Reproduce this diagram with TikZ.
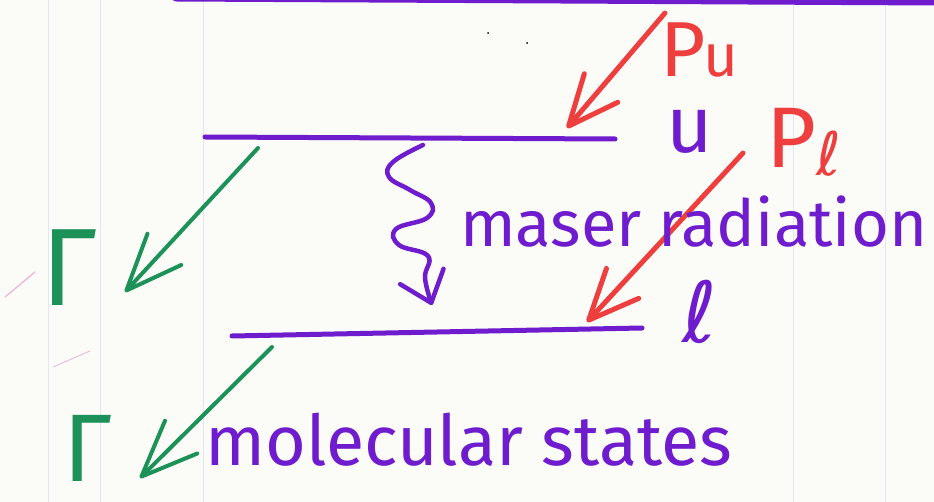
\documentclass[tikz,border=0pt]{standalone}
\usepackage{fontspec}
\setmainfont{Fira Sans}
\newfontfamily\dejavu{DejaVu Sans}
\usetikzlibrary{arrows.meta}
\definecolor{mpurple}{RGB}{110,28,205}
\definecolor{mred}{RGB}{238,62,62}
\definecolor{mgreen}{RGB}{28,145,88}
\definecolor{paper}{RGB}{251,252,248}
\definecolor{rule}{RGB}{232,228,242}
\definecolor{pinkmark}{RGB}{235,190,215}
\begin{document}
\begin{tikzpicture}[x=1pt,y=-1pt,
  level/.style={draw=mpurple,line width=5pt,line cap=round},
  pump/.style={draw=mred,line width=5pt,line cap=round,
    -{Straight Barb[length=50pt,width=44pt,line width=5pt,round]}},
  decay/.style={draw=mgreen,line width=4pt,line cap=round,
    -{Straight Barb[length=56pt,width=46pt,line width=4pt,round]}},
  wave/.style={draw=mpurple,line width=4.5pt,line cap=round,
    -{Straight Barb[length=28pt,width=46pt,line width=4.5pt,round]}},
  hand/.style={text=mpurple,inner sep=0pt},
  redlab/.style={text=mred,inner sep=0pt},
  greenlab/.style={text=mgreen,inner sep=0pt}]
\useasboundingbox (0,0) rectangle (934,502);
\fill[paper] (0,0) rectangle (934,502);
% faint notebook rules
\foreach \xx in {48,100,203,793,885}
  \draw[rule,line width=0.8pt] (\xx,0) -- (\xx,502);
\draw[pinkmark,line width=1.5pt] (5,297) -- (35,272);
\draw[pinkmark,line width=1pt] (53,367) -- (90,351);
\fill[black] (488,33) circle (1pt);
\fill[black] (527,43) circle (1pt);
% top purple stroke
\begin{scope}
\clip (0,0) rectangle (934,502);
\draw[mpurple,line width=9pt,line cap=round] (176,-3) -- (560,-1) -- (934,1);
\end{scope}
% levels
\coordinate (uL) at (205,137);
\coordinate (uR) at (615,139);
\coordinate (lL) at (232,336);
\coordinate (lR) at (642,328);
\draw[level] (uL) -- (uR);
\draw[level] (lL) -- (lR);
% labels of levels
\node[hand,font=\fontsize{80}{80}\selectfont] (ulab) at (690,132) {u};
\node[hand,font=\dejavu\fontsize{84}{84}\selectfont] (llab) at (700,312) {ℓ};
% pumping arrows
\coordinate (PuS) at (665,13);
\coordinate (PuT) at (567,128);
\coordinate (PlS) at (743,153);
\coordinate (PlT) at (587,322);
\draw[pump] (PuS) -- (PuT);
\draw[pump] (PlS) -- (PlT);
\node[redlab,anchor=base west,font=\fontsize{78}{78}\selectfont] (Pu) at (660,77)
  {P\kern-2pt{\fontsize{60}{60}\selectfont u}};
\node[redlab,anchor=base west,font=\fontsize{86}{86}\selectfont] (Pl) at (766,168)
  {P\raisebox{-8pt}{\dejavu\fontsize{60}{60}\selectfont ℓ}};
% maser radiation wavy arrow
\draw[wave] plot[smooth,tension=0.7] coordinates {(423,145) (393,162) (389,177) (410,190) (431,203) (427,218) (396,229) (399,245) (428,256) (425,278) (432,305)};
\node[hand,anchor=base west,font=\fontsize{65}{65}\selectfont] (maser) at (460,247) {maser radiation};
% decay arrows
\coordinate (GuS) at (258,148);
\coordinate (GuT) at (125,292);
\coordinate (GlS) at (272,347);
\coordinate (GlT) at (140,478);
\draw[decay] (GuS) -- (GuT);
\draw[decay] (GlS) -- (GlT);
\node[greenlab,font=\fontsize{110}{110}\selectfont] (G1) at (69,268) {Γ};
\node[greenlab,font=\fontsize{96}{96}\selectfont] (G2) at (88,448) {Γ};
\node[hand,anchor=base west,font=\fontsize{70}{70}\selectfont] (mol) at (205,465) {molecular states};
\end{tikzpicture}
\end{document}
